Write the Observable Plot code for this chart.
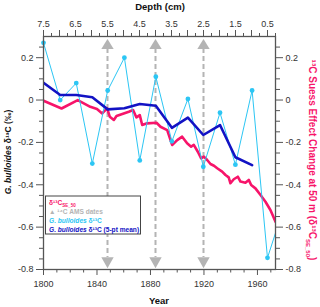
<!DOCTYPE html>
<html><head><meta charset="utf-8">
<script src="https://cdn.jsdelivr.net/npm/d3@7"></script>
<script src="https://cdn.jsdelivr.net/npm/@observablehq/plot@0.6"></script>
<style>
body{margin:0;background:#fff;}
svg{font-family:"Liberation Sans",Arial,sans-serif;}
</style>
</head><body><div id="chart"></div>
<script>
// G. bulloides d13C (individual samples)
const bullYears = [1800, 1812.5, 1824.5, 1836.5, 1848, 1860.5, 1872, 1884, 1896, 1908, 1919.5, 1932, 1943.5, 1956, 1967.5, 1979];
const bullVals  = [0.27, 0.0, 0.08, -0.30, 0.045, 0.20, -0.285, 0.11, -0.195, 0.005, -0.315, -0.06, -0.305, 0.045, -0.745, -0.52];
// 5-pt mean
const meanYears = [1800, 1812.5, 1824.5, 1836.5, 1848, 1860.5, 1872, 1884, 1896, 1908, 1919.5, 1932, 1943.5, 1956];
const meanVals  = [0.082, 0.024, 0.024, 0.013, -0.044, -0.039, -0.019, -0.027, -0.131, -0.083, -0.165, -0.118, -0.27, -0.307];
// Suess effect change at 50 m
const suessYears = [1800, 1813.5, 1825.6, 1835, 1840, 1843.9, 1847.6, 1849.6, 1852.6, 1854.6, 1863.8, 1867, 1869.5, 1872, 1873.8, 1877.5, 1884.5, 1887.5, 1892.5, 1896.2, 1900, 1903.7, 1907.4, 1910.4, 1912.4, 1915.4, 1917.9, 1919.9, 1922.4, 1924.9, 1927.5, 1929.9, 1933.6, 1936.1, 1938.5, 1939.8, 1942.3, 1945.3, 1947.3, 1951, 1953.5, 1955.3, 1958.5, 1962.3, 1966, 1969.7, 1973.5];
const suessVals  = [-0.003, -0.04, 0.0, -0.032, -0.042, -0.063, -0.039, -0.079, -0.094, -0.075, -0.055, -0.047, -0.082, -0.071, -0.118, -0.11, -0.107, -0.126, -0.142, -0.212, -0.189, -0.173, -0.204, -0.22, -0.212, -0.244, -0.275, -0.267, -0.283, -0.302, -0.31, -0.322, -0.338, -0.354, -0.365, -0.393, -0.374, -0.362, -0.385, -0.39, -0.377, -0.401, -0.417, -0.448, -0.48, -0.519, -0.574];
// 14C AMS dates (depth, cm)
const amsDepths = [5.5, 4.0, 2.5];
// ticks
const yearTicks = [1800, 1840, 1880, 1920, 1960];
const yearMinor = [1810, 1820, 1830, 1850, 1860, 1870, 1890, 1900, 1910, 1930, 1940, 1950, 1970];
const depthLabels = [7.5, 6.5, 5.5, 4.5, 3.5, 2.5, 1.5, 0.5];
const depthHalf = [7.0, 6.0, 5.0, 4.0, 3.0, 2.0, 1.0];
const depthQuarter = [7.25, 6.75, 6.25, 5.75, 5.25, 4.75, 4.25, 3.75, 3.25, 2.75, 2.25, 1.75, 1.25, 0.75, 0.25];
const yTicks = [-0.8, -0.6, -0.4, -0.2, 0, 0.2];
const yMinor = [-0.75, -0.7, -0.65, -0.55, -0.5, -0.45, -0.35, -0.3, -0.25, -0.15, -0.1, -0.05, 0.05, 0.1, 0.15, 0.25];

const C_PINK = "#f7146a", C_LB = "#2cc6f4", C_DB = "#1212c4", C_GREY = "#b4b4b4", C_AX = "#555";

const depthToYear = d3.scaleLinear([7.5, 0.25], [1800, 1973.5]);
const amsYears = amsDepths.map(depthToYear);

const bull = bullYears.map((x, i) => ({x, y: bullVals[i]}));
const mean = meanYears.map((x, i) => ({x, y: meanVals[i]}));
const suess = suessYears.map((x, i) => ({x, y: suessVals[i]}));

const triUp = {draw(ctx){ctx.moveTo(0,-5);ctx.lineTo(6.2,5);ctx.lineTo(-6.2,5);ctx.closePath();}};
const triDown = {draw(ctx){ctx.moveTo(0,5.5);ctx.lineTo(6.2,-5.5);ctx.lineTo(-6.2,-5.5);ctx.closePath();}};

const yfmt = d => String(+d.toFixed(2));
const axisCommon = {label: null, fontSize: 9, color: "#333", stroke: C_AX};

const plot = Plot.plot({
  width: 320, height: 307,
  marginLeft: 43, marginRight: 45, marginTop: 36, marginBottom: 38,
  x: {domain: [1800, 1973.5], label: null},
  y: {domain: [-0.8, 0.3], label: null},
  style: {fontFamily: '"Liberation Sans", Arial, sans-serif', fontSize: "9px", color: "#333"},
  marks: [
    Plot.ruleX(amsYears, {x: d => d, y1: () => 0.243, y2: () => -0.743, stroke: C_GREY, strokeWidth: 2, strokeDasharray: "5,3"}),
    Plot.dot(amsYears, {x: d => d, y: () => 0.2646, symbol: triUp, fill: C_GREY, stroke: "none"}),
    Plot.dot(amsYears, {x: d => d, y: () => -0.768, symbol: triDown, fill: C_GREY, stroke: "none"}),
    Plot.line(suess, {x: "x", y: "y", stroke: C_PINK, strokeWidth: 2.6, clip: true}),
    Plot.line(bull, {x: "x", y: "y", stroke: C_LB, strokeWidth: 1, clip: true}),
    Plot.dot(bull, {x: "x", y: "y", r: 2.4, fill: C_LB, filter: d => d.x <= 1973.5}),
    Plot.line(mean, {x: "x", y: "y", stroke: C_DB, strokeWidth: 2.6, clip: true}),
    // bottom axis
    Plot.axisX({...axisCommon, anchor: "bottom", ticks: yearTicks, tickSize: 6, tickPadding: 5, tickFormat: d => String(d)}),
    Plot.axisX({...axisCommon, anchor: "bottom", ticks: yearMinor, tickSize: 3.5, tickFormat: () => ""}),
    // top depth axis
    Plot.axisX({...axisCommon, anchor: "top", ticks: depthLabels.map(depthToYear), tickSize: 7, tickPadding: 3, tickFormat: y => depthToYear.invert(y).toFixed(1)}),
    Plot.axisX({...axisCommon, anchor: "top", ticks: depthHalf.map(depthToYear), tickSize: 7, tickFormat: () => ""}),
    Plot.axisX({...axisCommon, anchor: "top", ticks: depthQuarter.map(depthToYear), tickSize: 4, tickFormat: () => ""}),
    // left / right axes
    Plot.axisY({...axisCommon, anchor: "left", ticks: yTicks, tickSize: 7, tickPadding: 3, tickFormat: yfmt}),
    Plot.axisY({...axisCommon, anchor: "left", ticks: yMinor, tickSize: 4, tickFormat: () => ""}),
    Plot.axisY({...axisCommon, anchor: "right", ticks: yTicks, tickSize: 7, tickPadding: 3, tickFormat: yfmt}),
    Plot.axisY({...axisCommon, anchor: "right", ticks: yMinor, tickSize: 4, tickFormat: () => ""}),
    Plot.frame({stroke: C_AX, strokeWidth: 1.3})
  ]
});

const svg = d3.select(plot);
// titles
svg.append("text").attr("x", 160).attr("y", 9.5).attr("text-anchor", "middle")
  .attr("font-size", 9.5).attr("font-weight", "bold").attr("fill", "#111").text("Depth (cm)");
svg.append("text").attr("x", 159).attr("y", 304).attr("text-anchor", "middle")
  .attr("font-size", 9.5).attr("font-weight", "bold").attr("fill", "#111").text("Year");
// left label
const ll = svg.append("text").attr("transform", "translate(8,152) rotate(-90)").attr("text-anchor", "middle")
  .attr("dy", "0.35em").attr("font-size", 8.5).attr("font-weight", "bold").attr("fill", "#111");
ll.append("tspan").attr("font-style", "italic").text("G. bulloides");
ll.append("tspan").text(" δ¹³C (‰)");
// right label
const rl = svg.append("text").attr("transform", "translate(312,160) rotate(90)").attr("text-anchor", "middle")
  .attr("dy", "0.35em").attr("font-size", 10).attr("font-weight", "bold").attr("fill", C_PINK);
rl.append("tspan").text("¹³C Suess Effect Change at 50 m (δ¹³C");
rl.append("tspan").attr("font-size", 6).attr("dy", "0.45em").text("SE_50");
rl.append("tspan").attr("dy", "-0.3em").text(")");

// legend
const lg = svg.append("g").attr("text-anchor", "start");
lg.append("rect").attr("x", 45.5).attr("y", 196).attr("width", 95).attr("height", 38)
  .attr("fill", "#fff").attr("stroke", "#444").attr("stroke-width", 1);
const lt = (y, color) => lg.append("text").attr("x", 49).attr("y", y).attr("font-size", 6.6)
  .attr("text-anchor", "start").attr("font-weight", "bold").attr("fill", color);
const l1 = lt(205, C_PINK); l1.append("tspan").text("δ¹³C");
l1.append("tspan").attr("font-size", 4.5).attr("dy", 1.5).text("SE_50");
lt(214, C_GREY).text("▲ ¹⁴C AMS dates");
const l3 = lt(223, C_LB); l3.append("tspan").attr("font-style", "italic").text("G. bulloides"); l3.append("tspan").text(" δ¹³C");
const l4 = lt(232, C_DB); l4.append("tspan").attr("font-style", "italic").text("G. bulloides"); l4.append("tspan").text(" δ¹³C (5-pt mean)");

document.getElementById("chart").appendChild(plot);
</script>
</body></html>
